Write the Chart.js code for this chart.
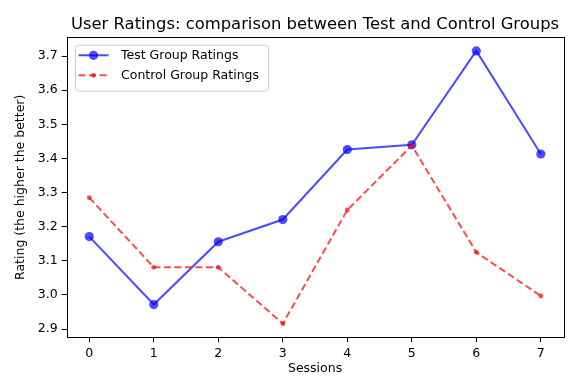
<!DOCTYPE html>
<html><head><meta charset="utf-8">
<script src="https://cdn.jsdelivr.net/npm/chart.js@4/dist/chart.umd.min.js"></script>
<style>html,body{margin:0;padding:0;background:#fff}</style>
</head><body>
<canvas id="c" width="568" height="376"></canvas>
<script>
const sessions = [0, 1, 2, 3, 4, 5, 6, 7];
const testRatings = [3.171, 2.972, 3.156, 3.221, 3.426, 3.440, 3.715, 3.413];
const controlRatings = [3.285, 3.081, 3.081, 2.916, 3.249, 3.438, 3.125, 2.997];
const xTicks = [0, 1, 2, 3, 4, 5, 6, 7];
const xTickLabels = ['0', '1', '2', '3', '4', '5', '6', '7'];
const yTicks = [2.9, 3.0, 3.1, 3.2, 3.3, 3.4, 3.5, 3.6, 3.7];
const yTickLabels = ['2.9', '3.0', '3.1', '3.2', '3.3', '3.4', '3.5', '3.6', '3.7'];
const seriesLabels = ['Test Group Ratings', 'Control Group Ratings'];
const titleText = 'User Ratings: comparison between Test and Control Groups';
const xLabel = 'Sessions';
const yLabel = 'Rating (the higher the better)';

const FONT = "'DejaVu Sans', 'Liberation Sans', sans-serif";
const BLUE = 'rgba(0,0,255,0.7)';
const RED = 'rgba(255,0,0,0.7)';

const frameAndLegend = {
  id: 'frameAndLegend',
  afterDatasetsDraw(chart) {
    const ctx = chart.ctx;
    const ca = chart.chartArea;
    ctx.save();
    ctx.strokeStyle = '#000';
    ctx.lineWidth = 1;
    ctx.strokeRect(Math.round(ca.left) + 0.5, Math.round(ca.top) + 0.5,
      Math.round(ca.right - ca.left), Math.round(ca.bottom - ca.top));
    ctx.font = '12.5px ' + FONT;
    const tw = Math.max(...chart.data.datasets.map(d => ctx.measureText(d.label).width));
    const bx = ca.left + 8.3, by = ca.top + 7.4;
    const bw = 46 + tw + 9, bh = 46;
    ctx.beginPath();
    if (ctx.roundRect) ctx.roundRect(bx + 0.5, by + 0.5, bw, bh, 3); else ctx.rect(bx + 0.5, by + 0.5, bw, bh);
    ctx.fillStyle = 'rgba(255,255,255,0.8)';
    ctx.fill();
    ctx.strokeStyle = '#cccccc';
    ctx.lineWidth = 1;
    ctx.stroke();
    chart.data.datasets.forEach((d, i) => {
      const y = by + 10.6 + i * 20;
      ctx.save();
      ctx.strokeStyle = d.borderColor;
      ctx.lineWidth = d.borderWidth;
      ctx.setLineDash(d.borderDash || []);
      ctx.beginPath();
      ctx.moveTo(bx + 3.5, y);
      ctx.lineTo(bx + 33.5, y);
      ctx.stroke();
      ctx.setLineDash([]);
      ctx.fillStyle = d.pointBackgroundColor;
      ctx.beginPath();
      ctx.arc(bx + 18.5, y, d.pointRadius, 0, Math.PI * 2);
      ctx.fill();
      ctx.restore();
      ctx.fillStyle = '#000';
      ctx.textBaseline = 'middle';
      ctx.textAlign = 'left';
      ctx.fillText(d.label, bx + 46, y);
    });
    ctx.restore();
  }
};

new Chart(document.getElementById('c'), {
  type: 'line',
  data: {
    datasets: [
      {
        label: seriesLabels[0],
        data: sessions.map((s, i) => ({ x: s, y: testRatings[i] })),
        borderColor: BLUE,
        backgroundColor: BLUE,
        pointBackgroundColor: BLUE,
        pointBorderWidth: 0,
        pointRadius: 4.6,
        borderWidth: 2,
        tension: 0,
        fill: false,
        order: 1
      },
      {
        label: seriesLabels[1],
        data: sessions.map((s, i) => ({ x: s, y: controlRatings[i] })),
        borderColor: RED,
        backgroundColor: RED,
        pointBackgroundColor: RED,
        pointBorderWidth: 0,
        pointRadius: 2.4,
        borderWidth: 2,
        borderDash: [7, 3.5],
        tension: 0,
        fill: false,
        order: 0
      }
    ]
  },
  options: {
    responsive: false,
    animation: false,
    devicePixelRatio: 1,
    layout: { padding: { left: 0, right: 4.5, top: 0, bottom: 0 } },
    plugins: {
      legend: { display: false },
      tooltip: { enabled: false },
      title: {
        display: true,
        text: titleText,
        fullSize: false,
        color: '#000',
        font: { family: FONT, size: 16.4, weight: 'normal' },
        padding: { top: 14.7, bottom: 2.9 }
      }
    },
    scales: {
      x: {
        type: 'linear',
        min: -0.35,
        max: 7.35,
        afterBuildTicks(scale) { scale.ticks = xTicks.map(v => ({ value: v })); },
        afterFit(scale) { scale.height = 38.7; },
        ticks: {
          color: '#000',
          font: { family: FONT, size: 12.5 },
          padding: 3.5,
          maxRotation: 0,
          autoSkip: false,
          callback: (v, i) => xTickLabels[i]
        },
        grid: { drawOnChartArea: false, drawTicks: true, tickLength: 5, color: '#000', lineWidth: 1 },
        border: { display: false },
        title: {
          display: true,
          text: xLabel,
          color: '#000',
          font: { family: FONT, size: 12.5 },
          padding: { top: 0, bottom: 0 }
        }
      },
      y: {
        type: 'linear',
        min: 2.876,
        max: 3.755,
        afterBuildTicks(scale) { scale.ticks = yTicks.map(v => ({ value: v })); },
        afterFit(scale) { scale.width = 66.7; },
        ticks: {
          color: '#000',
          font: { family: FONT, size: 12.5 },
          padding: 4,
          autoSkip: false,
          callback: (v, i) => yTickLabels[i]
        },
        grid: { drawOnChartArea: false, drawTicks: true, tickLength: 5, color: '#000', lineWidth: 1 },
        border: { display: false },
        title: {
          display: true,
          text: yLabel,
          color: '#000',
          font: { family: FONT, size: 12.5 },
          padding: { top: 13.5, bottom: 0 }
        }
      }
    }
  },
  plugins: [frameAndLegend]
});
</script>
</body></html>
